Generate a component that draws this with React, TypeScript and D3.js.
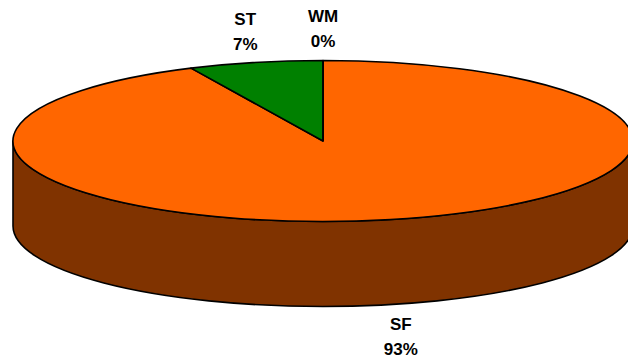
import React from "react";
import * as d3 from "d3";

const categories = ["SF", "ST", "WM"];
const values = [93, 7, 0];
const colors = ["#FF6600", "#008000", "#0000FF"];
const sideColors = ["#803300", "#004000", "#000080"];

const W = 628;
const H = 360;
const cx = 323;
const cy = 141;
const rx = 310;
const ry = 80.5;
const depth = 85;

function pt(a: number, dy = 0): [number, number] {
  return [cx + rx * Math.sin(a), cy - ry * Math.cos(a) + dy];
}

function topPath(a0: number, a1: number): string {
  const p0 = pt(a0);
  const p1 = pt(a1);
  const large = a1 - a0 > Math.PI ? 1 : 0;
  return `M${cx},${cy}L${p0[0]},${p0[1]}A${rx},${ry} 0 ${large} 1 ${p1[0]},${p1[1]}Z`;
}

// Outer wall for the part of a slice lying on the front half of the disc
function sidePath(a0: number, a1: number): string | null {
  const s = Math.max(a0, Math.PI / 2);
  const e = Math.min(a1, (3 * Math.PI) / 2);
  if (e <= s) return null;
  const t0 = pt(s);
  const t1 = pt(e);
  const b0 = pt(s, depth);
  const b1 = pt(e, depth);
  return `M${t0[0]},${t0[1]}A${rx},${ry} 0 0 1 ${t1[0]},${t1[1]}L${b1[0]},${b1[1]}A${rx},${ry} 0 0 0 ${b0[0]},${b0[1]}Z`;
}

export default function App() {
  const total = d3.sum(values);
  const pie = d3
    .pie<number>()
    .sort(null)
    .startAngle(0)
    .endAngle(2 * Math.PI);
  const arcs = pie(values);

  return (
    <svg width={W} height={H} style={{ position: "absolute", left: 0, top: 0 }}>
      <rect width={W} height={H} fill="#ffffff" />
      {arcs.map((d, i) => {
        const p = sidePath(d.startAngle, d.endAngle);
        return p ? (
          <path key={"s" + i} d={p} fill={sideColors[i]} stroke="#000" strokeWidth={1.6} strokeLinejoin="round" />
        ) : null;
      })}
      {arcs.map((d, i) =>
        d.endAngle - d.startAngle > 1e-6 ? (
          <path
            key={"t" + i}
            d={topPath(d.startAngle, d.endAngle)}
            fill={colors[i]}
            stroke="#000"
            strokeWidth={1.6}
            strokeLinejoin="round"
          />
        ) : (
          <line
            key={"t" + i}
            x1={cx}
            y1={cy}
            x2={pt(d.startAngle)[0]}
            y2={pt(d.startAngle)[1]}
            stroke="#000"
            strokeWidth={1.6}
          />
        )
      )}
      {arcs.map((d, i) => {
        const mid = (d.startAngle + d.endAngle) / 2;
        const c = Math.cos(mid);
        const lx = cx + rx * 1.15 * Math.sin(mid);
        const ly = c >= 0 ? cy - ry * 1.4 * c : cy + depth - ry * 1.4 * c;
        const pct = Math.round((values[i] / total) * 100);
        return (
          <text
            key={"l" + i}
            x={lx}
            y={ly}
            textAnchor="middle"
            fontFamily="'Liberation Sans', Arial, sans-serif"
            fontWeight="bold"
            fontSize={17}
            fill="#000"
          >
            <tspan x={lx} dy={-6}>{categories[i]}</tspan>
            <tspan x={lx} dy={25}>{pct}%</tspan>
          </text>
        );
      })}
    </svg>
  );
}
